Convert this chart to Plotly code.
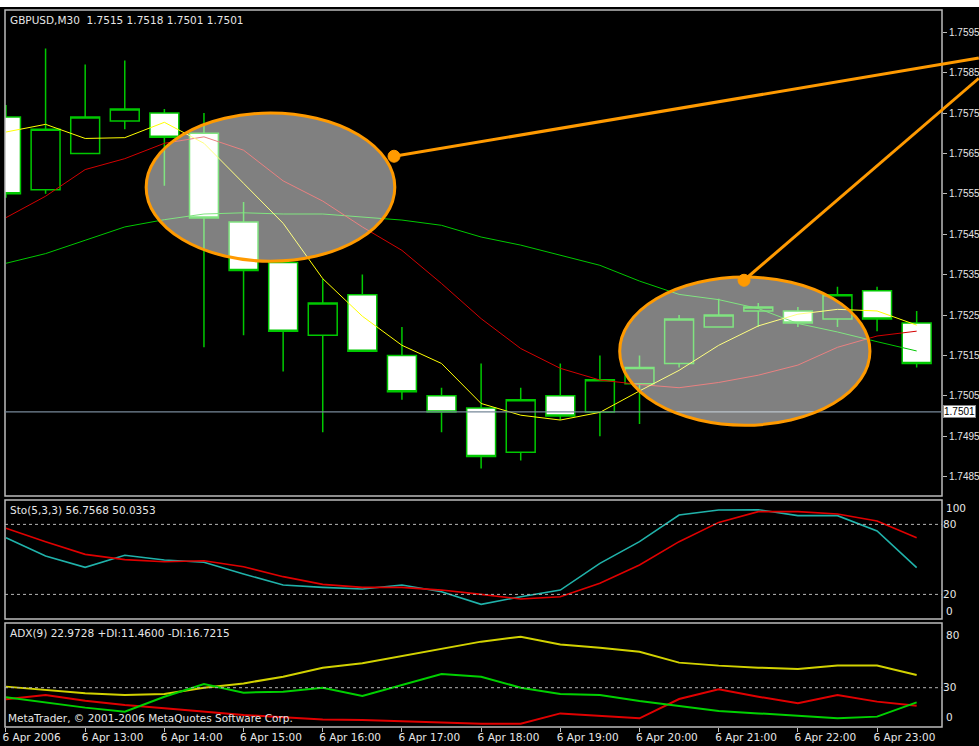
import plotly.graph_objects as go

# ---------------------------------------------------------------------------
# GBPUSD M30, 6 Apr 2006 12:00 - 23:30
# ---------------------------------------------------------------------------
times = ["12:00", "12:30", "13:00", "13:30", "14:00", "14:30", "15:00", "15:30",
         "16:00", "16:30", "17:00", "17:30", "18:00", "18:30", "19:00", "19:30",
         "20:00", "20:30", "21:00", "21:30", "22:00", "22:30", "23:00", "23:30"]

opens = [1.7574, 1.7556, 1.7565, 1.7573, 1.7575, 1.7570, 1.7548, 1.7538,
         1.7520, 1.7530, 1.7515, 1.7505, 1.7502, 1.7491, 1.7505, 1.7501,
         1.7508, 1.7513, 1.7522, 1.7526, 1.7526, 1.7524, 1.7531, 1.7523]
highs = [1.7577, 1.7591, 1.7587, 1.7588, 1.7576, 1.7575, 1.7553, 1.7538,
         1.7534, 1.7535, 1.7522, 1.7507, 1.7513, 1.7507, 1.7513, 1.7515,
         1.7515, 1.7525, 1.7529, 1.7528, 1.7527, 1.7532, 1.7532, 1.7526]
lows = [1.7554, 1.7555, 1.7565, 1.7571, 1.7557, 1.7517, 1.7520, 1.7511,
        1.7496, 1.7516, 1.7504, 1.7496, 1.7487, 1.7489, 1.7499, 1.7495,
        1.7498, 1.7512, 1.7522, 1.7522, 1.7522, 1.7522, 1.7521, 1.7512]
closes = [1.7555, 1.7571, 1.7574, 1.7576, 1.7569, 1.7549, 1.7536, 1.7521,
          1.7528, 1.7516, 1.7506, 1.7501, 1.7490, 1.7504, 1.7500, 1.7509,
          1.7512, 1.7524, 1.7525, 1.7527, 1.7523, 1.7530, 1.7524, 1.7513]

ma_fast = [1.75703, 1.75722, 1.75687, 1.75689, 1.75727, 1.75675, 1.75576, 1.75477,
           1.75340, 1.75247, 1.75175, 1.75130, 1.75031, 1.75002, 1.74990, 1.75009,
           1.75062, 1.75113, 1.75175, 1.75223, 1.75252, 1.75264, 1.75260, 1.75225]
ma_mid = [1.75491, 1.75544, 1.75610, 1.75637, 1.75675, 1.75691, 1.75658, 1.75582,
          1.75532, 1.75468, 1.75410, 1.75328, 1.75241, 1.75167, 1.75118, 1.75089,
          1.75078, 1.75070, 1.75083, 1.75101, 1.75126, 1.75170, 1.75198, 1.75210]
ma_slow = [1.75378, 1.75402, 1.75435, 1.75468, 1.75486, 1.75500, 1.75503, 1.75500,
           1.75500, 1.75492, 1.75485, 1.75472, 1.75443, 1.75423, 1.75398, 1.75373,
           1.75334, 1.75301, 1.75288, 1.75266, 1.75229, 1.75208, 1.75184, 1.75161]

sto_main = [68.6, 52.9, 43.2, 53.5, 49.5, 47.5, 37.5, 28.0, 26.0, 24.6, 28.0, 22.3,
            11.5, 18.0, 23.7, 46.6, 65.2, 88.0, 92.3, 92.6, 87.5, 87.5, 74.3, 42.9]
sto_signal = [76.6, 65.1, 54.3, 49.8, 48.0, 48.9, 43.7, 35.2, 28.6, 26.0, 26.0, 23.7,
              20.0, 16.0, 18.0, 29.5, 45.2, 65.2, 81.7, 90.9, 90.9, 88.9, 82.9, 68.6]

adx_main = [30.9, 28.1, 25.3, 23.9, 24.8, 30.0, 33.6, 39.2, 46.7, 50.3, 56.4, 62.3,
            68.4, 72.5, 66.1, 63.4, 60.0, 50.9, 48.4, 46.7, 45.6, 48.4, 48.4, 40.6]
adx_plus = [22.0, 17.8, 13.4, 10.0, 22.5, 33.1, 25.9, 26.7, 30.0, 23.1, 32.3, 41.4,
            39.2, 30.0, 24.8, 23.9, 18.9, 14.8, 10.6, 8.6, 6.7, 4.5, 5.9, 17.8]
adx_minus = [20.3, 23.9, 19.2, 15.6, 12.8, 10.0, 7.3, 5.3, 3.6, 3.1, 2.3, 1.1,
             0.0, 0.0, 8.6, 6.7, 4.5, 20.6, 28.6, 22.5, 17.0, 23.9, 18.4, 15.0]

x_tick_labels = ["6 Apr 2006", "6 Apr 13:00", "6 Apr 14:00", "6 Apr 15:00",
                 "6 Apr 16:00", "6 Apr 17:00", "6 Apr 18:00", "6 Apr 19:00",
                 "6 Apr 20:00", "6 Apr 21:00", "6 Apr 22:00", "6 Apr 23:00"]
price_ticks = [1.7485, 1.7495, 1.7505, 1.7515, 1.7525, 1.7535, 1.7545,
               1.7555, 1.7565, 1.7575, 1.7585, 1.7595]
last_price = 1.7501
sto_levels = [20, 80]
adx_levels = [30]

# chart objects drawn by hand on the terminal (bar index, price)
ellipses = [((3.54, 1.75383), (9.82, 1.75750)),
            ((15.50, 1.74977), (21.82, 1.75344))]
trendlines = [((9.80, 1.75643), (24.57, 1.75886)),
              ((18.64, 1.75336), (24.57, 1.75836))]

header_text = "GBPUSD,M30  1.7515 1.7518 1.7501 1.7501"
sto_text = "Sto(5,3,3) 56.7568 50.0353"
adx_text = "ADX(9) 22.9728 +DI:11.4600 -DI:16.7215"
copyright_text = "MetaTrader, © 2001-2006 MetaQuotes Software Corp."

# ---------------------------------------------------------------------------
FONT = "DejaVu Sans"
PRICE_FONT = "Liberation Sans"   # narrower, so the price scale fits the window
TXT = "#e6e6e6"
FRAME = "#bcbcbc"
CANDLE = "#00c800"
ORANGE = "#ff9a00"
bars = list(range(len(times)))
x_range = [-0.025, 23.64]


def to_paper(bar):
    return (bar - x_range[0]) / (x_range[1] - x_range[0])


fig = go.Figure()

# 1. price panel
fig.add_trace(go.Candlestick(
    x=bars, open=opens, high=highs, low=lows, close=closes,
    increasing=dict(line=dict(color=CANDLE, width=1.5), fillcolor="black"),
    decreasing=dict(line=dict(color=CANDLE, width=1.5), fillcolor="white"),
    whiskerwidth=0, showlegend=False, hoverinfo="skip",
    xaxis="x", yaxis="y",
))
for vals, col in [(ma_slow, "#00c800"), (ma_mid, "#d40000"), (ma_fast, "#ffff00")]:
    fig.add_trace(go.Scatter(x=bars, y=vals, mode="lines",
                             line=dict(color=col, width=1),
                             showlegend=False, hoverinfo="skip",
                             xaxis="x", yaxis="y"))

# 2. stochastic
fig.add_trace(go.Scatter(x=bars, y=sto_main, mode="lines",
                         line=dict(color="#20b2aa", width=1.6),
                         showlegend=False, hoverinfo="skip", xaxis="x", yaxis="y2"))
fig.add_trace(go.Scatter(x=bars, y=sto_signal, mode="lines",
                         line=dict(color="#e00000", width=1.6),
                         showlegend=False, hoverinfo="skip", xaxis="x", yaxis="y2"))

# 3. ADX
for vals, col in [(adx_main, "#d2d200"), (adx_minus, "#e00000"), (adx_plus, "#00d000")]:
    fig.add_trace(go.Scatter(x=bars, y=vals, mode="lines",
                             line=dict(color=col, width=2),
                             showlegend=False, hoverinfo="skip",
                             xaxis="x", yaxis="y3"))

shapes = []
# panel frames
for ref in ["y", "y2", "y3"]:
    shapes.append(dict(type="rect", xref="x domain", yref=ref + " domain",
                       x0=0, x1=1, y0=0, y1=1,
                       line=dict(color=FRAME, width=1.5), layer="above"))
# level lines
for lv in sto_levels:
    shapes.append(dict(type="line", xref="x domain", yref="y2", x0=0, x1=1,
                       y0=lv, y1=lv, line=dict(color="#b4b4b4", width=1, dash="3px,3px")))
for lv in adx_levels:
    shapes.append(dict(type="line", xref="x domain", yref="y3", x0=0, x1=1,
                       y0=lv, y1=lv, line=dict(color="#b4b4b4", width=1, dash="3px,3px")))
# bid line
shapes.append(dict(type="line", xref="x domain", yref="y", x0=0, x1=1,
                   y0=last_price, y1=last_price, line=dict(color="#778899", width=1.2)))
# hand drawn ellipses + trendlines
for (bx0, p0), (bx1, p1) in ellipses:
    shapes.append(dict(type="circle", xref="x", yref="y", x0=bx0, x1=bx1, y0=p0, y1=p1,
                       fillcolor="rgba(255,255,255,0.5)",
                       line=dict(color=ORANGE, width=3), layer="above"))
for (bx0, p0), (bx1, p1) in trendlines:
    shapes.append(dict(type="line", xref="paper", yref="y",
                       x0=to_paper(bx0), x1=to_paper(bx1), y0=p0, y1=p1,
                       line=dict(color=ORANGE, width=3), layer="above"))
    shapes.append(dict(type="circle", xref="x", yref="y", xsizemode="pixel",
                       ysizemode="pixel", xanchor=bx0, yanchor=p0,
                       x0=-6, x1=6, y0=-6, y1=6, fillcolor=ORANGE,
                       line=dict(color=ORANGE, width=1), layer="above"))
# window strip at the very top
shapes.append(dict(type="rect", xref="paper", yref="paper", x0=-0.01, x1=1.05,
                   y0=1.0042, y1=1.02, fillcolor="white", line=dict(width=0)))

annotations = []
for ref, txt in [("y", header_text), ("y2", sto_text), ("y3", adx_text)]:
    annotations.append(dict(xref="paper", yref=ref + " domain", x=0, y=1,
                            xanchor="left", yanchor="top", xshift=4, yshift=-3,
                            text=txt, showarrow=False, borderpad=0,
                            font=dict(family=FONT, size=10.5, color=TXT)))
annotations.append(dict(xref="paper", yref="y3 domain", x=0, y=0,
                        xanchor="left", yanchor="bottom", xshift=2, yshift=2,
                        text=copyright_text, showarrow=False, borderpad=0,
                        font=dict(family=FONT, size=10.5, color=TXT)))
# clamped end labels of the indicator scales
for ref, val, anchor in [("y2", 100, "top"), ("y2", 0, "bottom"),
                         ("y3", 80, "top"), ("y3", 0, "bottom")]:
    annotations.append(dict(xref="paper", yref=ref, x=1, y=val,
                            xanchor="left", yanchor=anchor, xshift=3,
                            text=str(val), showarrow=False, borderpad=0,
                            font=dict(family=FONT, size=10.5, color=TXT)))
# bid price box
annotations.append(dict(xref="paper", yref="y", x=1, y=last_price,
                        xanchor="left", yanchor="middle", xshift=1,
                        text=f"{last_price:.4f}", showarrow=False,
                        bgcolor="white", bordercolor="#888888", borderwidth=1,
                        borderpad=0, font=dict(family=PRICE_FONT, size=10, color="black")))

axis_font = dict(family=FONT, size=10.5, color=TXT)
fig.update_layout(
    width=979, height=746,
    margin=dict(l=5, r=37, t=10, b=19, pad=0),
    paper_bgcolor="black", plot_bgcolor="black",
    boxgap=0.27, boxgroupgap=0,
    showlegend=False,
    hovermode=False,
    xaxis=dict(domain=[0, 1], range=x_range, anchor="y3",
               tickvals=bars[::2], ticktext=x_tick_labels,
               ticks="outside", ticklen=4, tickcolor=FRAME,
               ticklabelposition="outside right", ticklabelshift=-4,
               tickfont=axis_font, showgrid=False, zeroline=False,
               showline=False, rangeslider=dict(visible=False),
               automargin=False),
    yaxis=dict(domain=[0.3222, 1], range=[1.74802, 1.76005], side="right",
               anchor="x", tickvals=price_ticks, tickformat=".4f",
               ticks="outside", ticklen=4, tickcolor=FRAME,
               tickfont=dict(family=PRICE_FONT, size=10, color=TXT),
               ticklabelstandoff=0,
               showgrid=False, zeroline=False, automargin=False),
    yaxis2=dict(domain=[0.1506, 0.3166], range=[-1.1, 100.9], side="right",
                anchor="x", tickvals=sto_levels, ticks="", tickfont=axis_font,
                showgrid=False, zeroline=False, automargin=False),
    yaxis3=dict(domain=[0, 0.145], range=[-2.75, 83.9], side="right",
                anchor="x", tickvals=adx_levels, ticks="", tickfont=axis_font,
                showgrid=False, zeroline=False, automargin=False),
    shapes=shapes,
    annotations=annotations,
)

# the page's default body margin would push the figure off the window
fig.write_html("out.html", config={"displayModeBar": False},
               post_script="document.body.style.margin='0';")
